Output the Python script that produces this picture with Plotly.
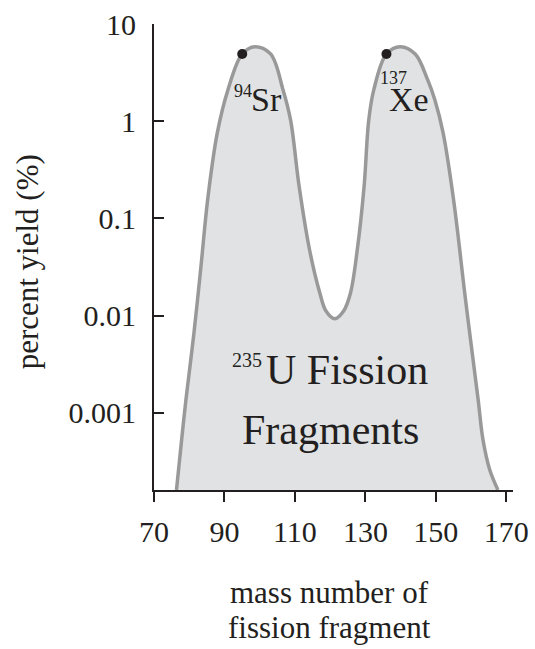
import plotly.graph_objects as go

# ---- data ----
mass = [76.38, 77.85, 79.07, 81.34, 83.33, 85.23, 87.95, 90.98, 95.04, 98.64, 103.09, 106.63,
        108.76, 111.20, 114.15, 117.07, 118.77, 121.32, 123.87, 125.77, 127.70, 129.63,
        130.96, 132.38, 135.98, 139.89, 144.14, 147.69, 149.73, 152.08, 155.03, 158.43,
        162.00, 163.37, 165.27, 167.62]
yield_pct = [1.611e-4, 5.32e-4, 1.371e-3, 6.637e-3, 0.03206, 0.1556, 0.7534, 2.099, 4.92, 5.848,
             4.92, 2.099, 1.032, 0.2128, 0.04764, 0.0171, 0.01125, 0.00931, 0.01125, 0.0171,
             0.04764, 0.2128, 1.032, 2.099, 4.92, 5.848, 4.92, 2.661, 1.656, 0.7534, 0.1556,
             0.01459, 1.371e-3, 5.32e-4, 2.618e-4, 1.611e-4]
marked_mass = [95.04, 135.98]
marked_yield = [4.92, 4.92]

xtick_vals = [70, 90, 110, 130, 150, 170]
ytick_vals = [0.001, 0.01, 0.1, 1, 10]
ytick_text = ["0.001", "0.01", "0.1", "1", "10"]

FONT = "Liberation Serif"
INK = "#231f20"
LINE = "#999999"
FILL = "#e1e2e4"

fig = go.Figure()
fig.add_trace(go.Scatter(x=mass, y=yield_pct, mode="lines", fill="toself",
                         fillcolor=FILL, line=dict(width=0, shape="spline", smoothing=1),
                         hoverinfo="skip", showlegend=False))
fig.add_trace(go.Scatter(x=mass, y=yield_pct, mode="lines",
                         line=dict(color=LINE, width=3.5, shape="spline", smoothing=1),
                         showlegend=False))
fig.add_trace(go.Scatter(x=marked_mass, y=marked_yield, mode="markers",
                         marker=dict(color=INK, size=10), showlegend=False))

def ann(text, x, y, size, xref="x", yref="y", angle=0):
    fig.add_annotation(text=text, x=x, y=y, xref=xref, yref=yref, showarrow=False,
                       textangle=angle, xanchor="center", yanchor="middle",
                       font=dict(family=FONT, size=size, color=INK))

ann("94", 95.2, 0.314, 18)
ann("Sr", 102.0, 0.222, 34)
ann("137", 138.1, 0.44, 18)
ann("Xe", 142.3, 0.219, 34)
ann("235", 96.5, -2.46, 20)
ann("U Fission", 124.8, -2.563, 42)
ann("Fragments", 120.1, -3.18, 42)
ann("percent yield (%)", -0.3535, 0.4887, 31, xref="paper", yref="paper", angle=-90)
ann("mass number of", 0.49, -0.2208, 31, xref="paper", yref="paper")
ann("fission fragment", 0.49, -0.2948, 31, xref="paper", yref="paper")

fig.update_xaxes(range=[70, 171.9], tickvals=xtick_vals, ticks="outside", ticklen=10,
                 tickwidth=2, tickcolor=INK, showline=True, linewidth=2, linecolor=INK,
                 showgrid=False, zeroline=False, automargin=False, ticklabelstandoff=4,
                 ticklabeloverflow="allow",
                 tickfont=dict(family=FONT, size=30, color=INK))
fig.update_yaxes(type="log", range=[-3.793, 1], tickvals=ytick_vals, ticktext=ytick_text,
                 ticks="inside", ticklen=10, tickwidth=2, tickcolor=INK,
                 showline=True, linewidth=2, linecolor=INK, showgrid=False, zeroline=False,
                 automargin=False, ticklabelstandoff=10, ticklabeloverflow="allow",
                 tickfont=dict(family=FONT, size=30, color=INK))

fig.update_layout(width=535, height=649,
                  margin=dict(l=154, r=21.7, t=24, b=158.5, autoexpand=False),
                  plot_bgcolor="white", paper_bgcolor="white",
                  font=dict(family=FONT, color=INK))

# remove the browser's default 8 px body margin so the figure fills the window
fig.write_html("out.html", config={"displayModeBar": False, "staticPlot": True},
               post_script="document.body.style.margin='0';document.body.style.overflow='hidden';")
